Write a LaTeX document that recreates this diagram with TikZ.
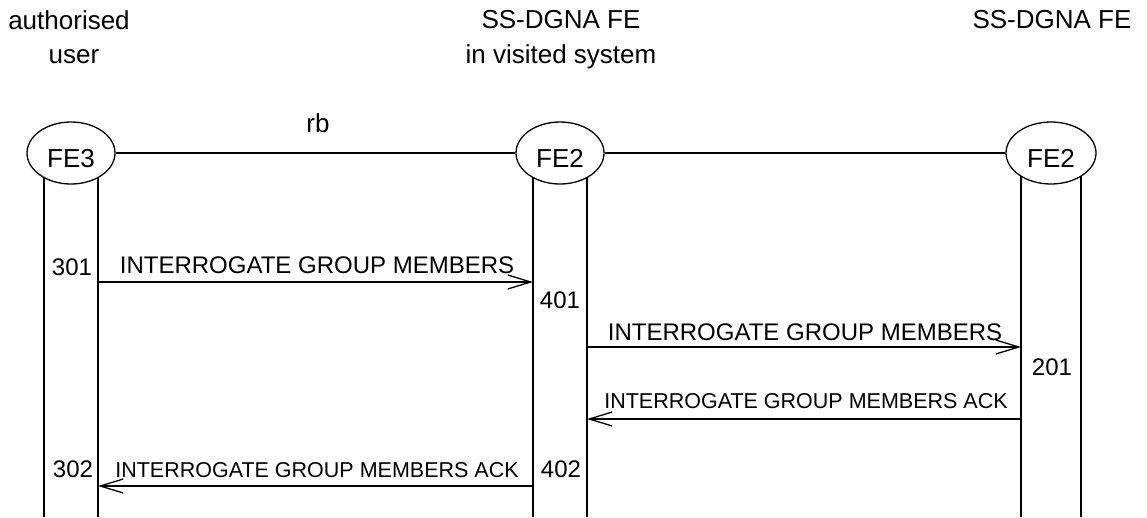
\documentclass[tikz,border=0pt]{standalone}
\usepackage{fontspec}
\setmainfont{Liberation Sans}
\usetikzlibrary{arrows.meta,shapes.geometric}
\begin{document}
\begin{tikzpicture}[x=1pt,y=-1pt,
 lbl/.style={inner sep=0pt,anchor=base,font=\fontsize{24}{28}\selectfont},
 toplbl/.style={inner sep=0pt,anchor=base,font=\fontsize{26}{30}\selectfont},
 acklbl/.style={inner sep=0pt,anchor=base,font=\fontsize{21.5}{25}\selectfont},
 fe/.style={ellipse,draw,fill=white,line width=1.3pt,minimum width=88pt,minimum height=62pt,inner sep=0pt,text height=28.6pt,text depth=0pt,font=\fontsize{26}{30}\selectfont},
 life/.style={line width=1.3pt},
 msg/.style={line width=1.3pt,-{Straight Barb[length=23pt,width=14pt,line width=1.3pt]}}]
\useasboundingbox (0,0) rectangle (1147,517);

% top labels
\node[toplbl] (t1a) at (69,29) {authorised};
\node[toplbl] (t1b) at (74,63) {user};
\node[toplbl] (t2a) at (561,28) {SS-DGNA FE};
\node[toplbl] (t2b) at (561,63) {in visited system};
\node[toplbl] (t3a) at (1052,28) {SS-DGNA FE};

% lifeline coordinates
\coordinate (l1a) at (44,517);
\coordinate (l1b) at (98,517);
\coordinate (l2a) at (533,517);
\coordinate (l2b) at (587,517);
\coordinate (l3a) at (1021,517);
\coordinate (l3b) at (1081,517);
\coordinate (c1) at (71,153);
\coordinate (c2) at (560,153);
\coordinate (c3) at (1051,153);

\draw[life] (c1 -| l1a) -- (l1a);
\draw[life] (c1 -| l1b) -- (l1b);
\draw[life] (c2 -| l2a) -- (l2a);
\draw[life] (c2 -| l2b) -- (l2b);
\draw[life] (c3 -| l3a) -- (l3a);
\draw[life] (c3 -| l3b) -- (l3b);

% entities
\node[fe] (fe3) at (c1) {FE3};
\node[fe] (fe2a) at (c2) {FE2};
\node[fe,minimum width=90pt] (fe2b) at (c3) {FE2};

\draw[life] (fe3.east) -- (fe2a.west);
\draw[life] (fe2a.east) -- (fe2b.west);
\node[toplbl] (rb) at (318,132) {rb};

% messages
\coordinate (m1s) at (98,282);
\coordinate (m1e) at (533,282);
\draw[msg] (m1s) -- (m1e);
\node[lbl] (m1t) at (317,273) {INTERROGATE GROUP MEMBERS};
\node[lbl] (n301) at (72,275) {301};
\node[lbl] (n401) at (560,308) {401};

\coordinate (m2s) at (587,347);
\coordinate (m2e) at (1021,347);
\draw[msg] (m2s) -- (m2e);
\node[lbl] (m2t) at (805,340) {INTERROGATE GROUP MEMBERS};
\node[lbl] (n201) at (1052,375) {201};

\coordinate (m3s) at (1021,419);
\coordinate (m3e) at (587,419);
\draw[msg] (m3s) -- (m3e);
\node[acklbl] (m3t) at (806,408) {INTERROGATE GROUP MEMBERS ACK};

\coordinate (m4s) at (533,486);
\coordinate (m4e) at (98,486);
\draw[msg] (m4s) -- (m4e);
\node[acklbl] (m4t) at (317,477) {INTERROGATE GROUP MEMBERS ACK};
\node[lbl] (n302) at (73,477) {302};
\node[lbl] (n402) at (561,477) {402};
\end{tikzpicture}
\end{document}
